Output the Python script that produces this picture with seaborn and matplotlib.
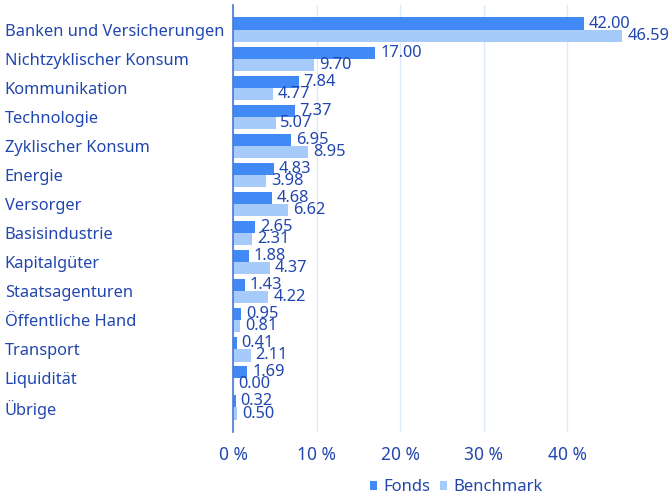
import matplotlib
matplotlib.use("Agg")
import matplotlib.pyplot as plt
import seaborn as sns
import pandas as pd

# --- DATOS ---
sektoren = ["Banken und Versicherungen", "Nichtzyklischer Konsum", "Kommunikation",
            "Technologie", "Zyklischer Konsum", "Energie", "Versorger", "Basisindustrie",
            "Kapitalgüter", "Staatsagenturen", "Öffentliche Hand", "Transport",
            "Liquidität", "Übrige"]
fonds = [42.00, 17.00, 7.84, 7.37, 6.95, 4.83, 4.68, 2.65, 1.88, 1.43, 0.95, 0.41, 1.69, 0.32]
benchmark = [46.59, 9.70, 4.77, 5.07, 8.95, 3.98, 6.62, 2.31, 4.37, 4.22, 0.81, 2.11, 0.00, 0.50]
x_ticks = [0, 10, 20, 30, 40]

# --- ESTILO ---
FARBEN = ["#4189f4", "#a6cbfb"]
TEXT = "#2146ad"
sns.set_style("white")
plt.rcParams['font.family'] = ['Noto Sans', 'DejaVu Sans']
plt.rcParams['font.size'] = 12

df = pd.DataFrame({
    "Sektor": sektoren * 2,
    "Wert": fonds + benchmark,
    "Serie": ["Fonds"] * len(sektoren) + ["Benchmark"] * len(sektoren),
})

fig = plt.figure(figsize=(6.7, 4.99), dpi=100)
ax = fig.add_axes([0.348, 0.134, 0.652, 0.856])

sns.barplot(data=df, y="Sektor", x="Wert", hue="Serie", orient="h",
            palette=FARBEN, width=0.84, ax=ax, saturation=1, linewidth=0)

# etiquetas de valor al final de cada barra
for cont in ax.containers:
    ax.bar_label(cont, fmt="%.2f", padding=3.5, color=TEXT, fontsize=11.8)

ax.set_xlim(0, 52.3)
ax.set_ylim(13.85, -0.85)
ax.set_xticks(x_ticks)
ax.set_xticklabels([f"{t} %" for t in x_ticks], color=TEXT, fontsize=12.5)
ax.tick_params(axis="x", length=0, pad=10)
ax.tick_params(axis="y", length=0, pad=164.5)
for lbl in ax.get_yticklabels():
    lbl.set_horizontalalignment("left")
    lbl.set_color(TEXT)
    lbl.set_fontsize(11.8)

ax.grid(axis="x", color="#dce8fc", linewidth=1)
ax.set_axisbelow(True)
for s in ["top", "right", "bottom"]:
    ax.spines[s].set_visible(False)
ax.spines["left"].set_color("#4a78d6")
ax.spines["left"].set_linewidth(1.2)
ax.set_xlabel("")
ax.set_ylabel("")

sns.move_legend(ax, "lower center", bbox_to_anchor=(0.511, -0.183), ncol=2,
                frameon=False, title=None, handlelength=0.4, handleheight=0.4,
                handletextpad=0.4, columnspacing=0.6, fontsize=12,
                labelcolor=TEXT)

fig.savefig("out.png", dpi=100)
